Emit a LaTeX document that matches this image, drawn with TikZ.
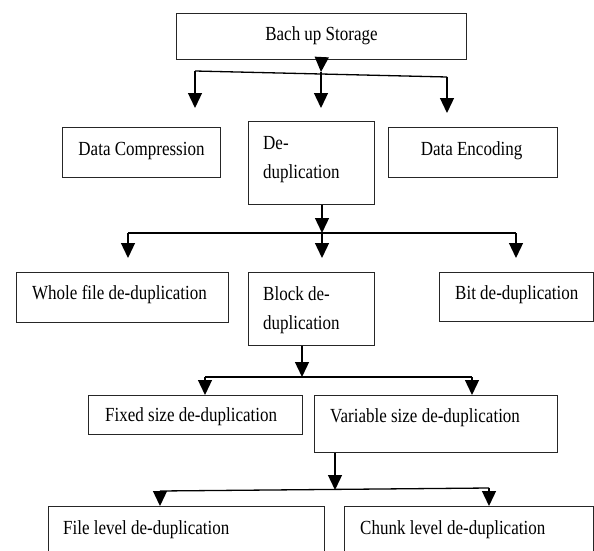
\documentclass[tikz,border=0pt]{standalone}
\usepackage{fontspec}
\setmainfont{Liberation Serif}[FakeStretch=0.85]
\usetikzlibrary{arrows.meta}

\tikzset{
  box/.style={draw=black!85,line width=1.2pt,inner sep=0pt,anchor=north west},
  lbl/.style={inner sep=0pt,font=\fontsize{20}{28.5}\selectfont},
  arr/.style={-{Triangle[width=14pt,length=15pt]},line width=1.3pt},
  ln/.style={line width=1.3pt}
}

\begin{document}
\begin{tikzpicture}[x=1pt,y=-1pt]
\clip (0,0) rectangle (594,551);

% boxes
\node[box,minimum width=290pt,minimum height=46pt] (storage) at (176,13) {};
\node[box,minimum width=158pt,minimum height=50pt] (compress) at (62,127) {};
\node[box,minimum width=126pt,minimum height=83pt] (dedup) at (248,121) {};
\node[box,minimum width=169pt,minimum height=50pt] (encode) at (388,127) {};
\node[box,minimum width=212pt,minimum height=50pt] (whole) at (16,272) {};
\node[box,minimum width=126pt,minimum height=73pt] (block) at (248,272) {};
\node[box,minimum width=154pt,minimum height=49pt] (bit) at (439,272) {};
\node[box,minimum width=214pt,minimum height=39pt] (fixed) at (88,395) {};
\node[box,minimum width=243pt,minimum height=57pt] (variable) at (314,395) {};
\node[box,minimum width=276pt,minimum height=70pt] (filelvl) at (48,506) {};
\node[box,minimum width=249pt,minimum height=70pt] (chunk) at (344,506) {};

% texts
\node[lbl,anchor=base] (t-storage) at (321.5,40.7) {Bach up Storage};
\node[lbl,anchor=base] (t-compress) at (141.5,155) {Data Compression};
\node[lbl,anchor=north west,align=left] (t-dedup) at (263,136.7) {De-\\duplication};
\node[lbl,anchor=base] (t-encode) at (471.5,155) {Data Encoding};
\node[lbl,anchor=base west] (t-whole) at (32,299) {Whole file de-duplication};
\node[lbl,anchor=north west,align=left] (t-block) at (263,286.7) {Block de-\\duplication};
\node[lbl,anchor=base west] (t-bit) at (455,299) {Bit de-duplication};
\node[lbl,anchor=base west] (t-fixed) at (105,421.5) {Fixed size de-duplication};
\node[lbl,anchor=base west] (t-variable) at (330,422.5) {Variable size de-duplication};
\node[lbl,anchor=base west] (t-filelvl) at (63,534) {File level de-duplication};
\node[lbl,anchor=base west] (t-chunk) at (360,534) {Chunk level de-duplication};

% level 1
\coordinate (j1) at (321,72);
\coordinate (j1-l) at (195,71);
\coordinate (j1-r) at (447,77);
\draw[arr] (storage.south) -- (j1);
\draw[ln] (j1-l) -- (j1-r);
\draw[arr] (j1-l) -- (195,108) coordinate (e1-l);
\draw[arr] (j1) -- (321,108) coordinate (e1-m);
\draw[arr] (j1-r) -- (447,113) coordinate (e1-r);

% level 2
\coordinate (j2) at (322,233);
\coordinate (j2-l) at (128,233);
\coordinate (j2-r) at (516,233);
\draw[arr] (dedup.south -| j2) -- (j2);
\draw[ln] (j2-l) -- (j2-r);
\draw[arr] (j2-l) -- (128,258) coordinate (e2-l);
\draw[arr] (j2) -- (322,258) coordinate (e2-m);
\draw[arr] (j2-r) -- (516,258) coordinate (e2-r);

% level 3
\coordinate (j3) at (302,377);
\coordinate (j3-l) at (205,377);
\coordinate (j3-r) at (472,377);
\draw[arr] (block.south -| j3) -- (j3);
\draw[ln] (j3-l) -- (j3-r);
\draw[arr] (j3-l) -- (fixed.north -| j3-l);
\draw[arr] (j3-r) -- (variable.north -| j3-r);

% level 4
\coordinate (j4) at (335,490);
\coordinate (j4-l) at (160,491);
\coordinate (j4-r) at (489,488);
\draw[arr] (variable.south -| j4) -- (j4);
\draw[ln] (j4-l) -- (j4-r);
\draw[arr] (j4-l) -- (filelvl.north -| j4-l);
\draw[arr] (j4-r) -- (chunk.north -| j4-r);
\end{tikzpicture}
\end{document}
